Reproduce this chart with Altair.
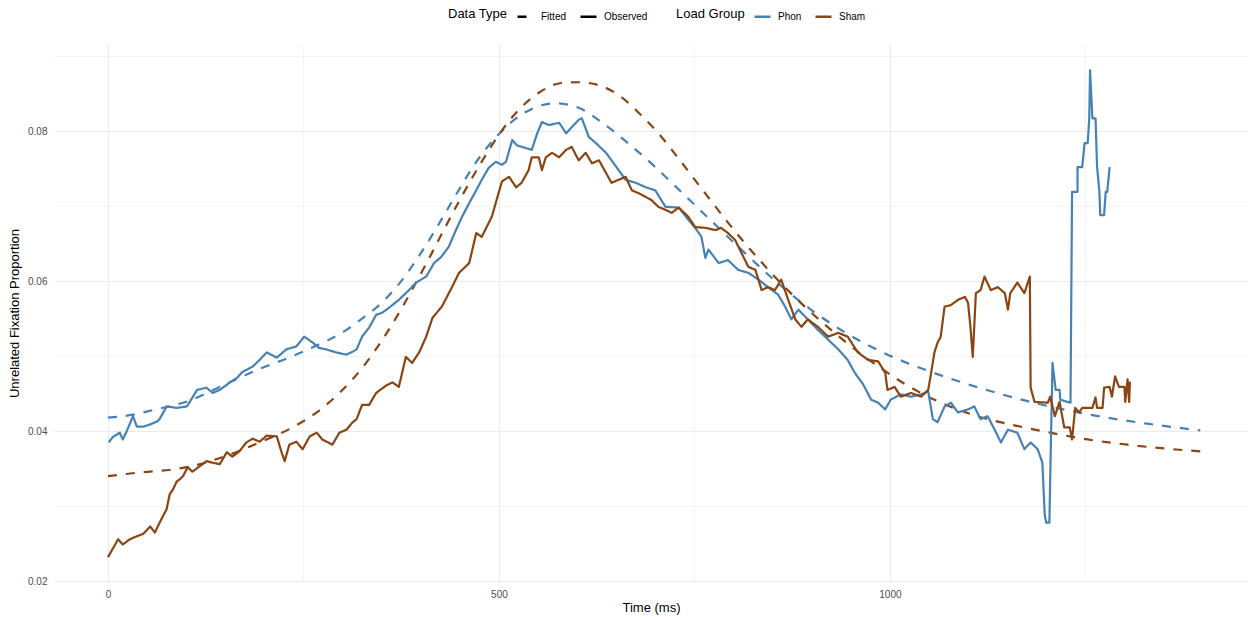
import altair as alt
import pandas as pd

# ---------------- data ----------------
phon_obs_t = [1, 6, 12, 15, 19, 24, 32, 37, 45, 54, 63, 66, 75, 88, 101, 114, 126, 134, 143, 156,
              165, 172, 185, 194, 203, 216, 228, 241, 251, 262, 270, 279, 292, 305, 313, 318, 325, 334, 343, 351,
              360, 372, 385, 394, 407, 417, 426, 436, 445, 453, 462, 471, 478, 487, 496, 504, 509, 517, 523, 529,
              542, 549, 555, 564, 577, 586, 593, 602, 606, 615, 624, 637, 644, 653, 662, 675, 688, 700, 713, 730,
              742, 751, 759, 764, 768, 781, 793, 806, 819, 832, 844, 857, 866, 874, 883, 895, 908, 921, 934, 946,
              955, 966, 976, 985, 994, 1001, 1014, 1027, 1040, 1049, 1055, 1061, 1070, 1078, 1087, 1100, 1108, 1116, 1125, 1134,
              1142, 1151, 1163, 1172, 1180, 1189, 1195, 1198, 1200, 1204, 1205, 1208, 1212, 1217, 1218, 1227, 1231, 1233, 1240, 1240,
              1246, 1249, 1253, 1255, 1256, 1259, 1263, 1265, 1268, 1269, 1274, 1276, 1278, 1281]
phon_obs_v = [0.0385, 0.0392, 0.0396, 0.0398, 0.0389, 0.0400, 0.0420, 0.0406, 0.0406, 0.0409, 0.0413, 0.0416, 0.0433, 0.0431, 0.0433, 0.0455, 0.0458, 0.0451, 0.0455, 0.0465,
              0.0471, 0.0479, 0.0486, 0.0495, 0.0505, 0.0498, 0.0509, 0.0513, 0.0526, 0.0518, 0.0511, 0.0509, 0.0505, 0.0502, 0.0506, 0.0509, 0.0526, 0.0538, 0.0555, 0.0558,
              0.0565, 0.0575, 0.0588, 0.0598, 0.0606, 0.0624, 0.0632, 0.0646, 0.0668, 0.0686, 0.0704, 0.0721, 0.0735, 0.0751, 0.0759, 0.0755, 0.0759, 0.0788, 0.0781, 0.0779,
              0.0775, 0.0797, 0.0812, 0.0808, 0.0811, 0.0797, 0.0805, 0.0815, 0.0817, 0.0792, 0.0784, 0.0771, 0.0761, 0.0748, 0.0735, 0.0731, 0.0725, 0.0721, 0.0699, 0.0698,
              0.0682, 0.0671, 0.0659, 0.0631, 0.0642, 0.0624, 0.0628, 0.0615, 0.0611, 0.0602, 0.0592, 0.0582, 0.0566, 0.0549, 0.0562, 0.0549, 0.0535, 0.0522, 0.0509, 0.0495,
              0.0478, 0.0462, 0.0442, 0.0438, 0.0429, 0.0442, 0.0449, 0.0446, 0.0449, 0.0453, 0.0416, 0.0412, 0.0433, 0.0438, 0.0425, 0.0429, 0.0433, 0.0416, 0.0420, 0.0402,
              0.0385, 0.0402, 0.0398, 0.0376, 0.0385, 0.0376, 0.0358, 0.0289, 0.0278, 0.0278, 0.0336, 0.0491, 0.0455, 0.0455, 0.0442, 0.0439, 0.0438, 0.0719, 0.0719, 0.0752,
              0.0752, 0.0784, 0.0784, 0.0817, 0.0881, 0.0817, 0.0817, 0.0752, 0.0719, 0.0688, 0.0688, 0.0719, 0.0719, 0.0752]

sham_obs_t = [0, 6, 13, 19, 28, 37, 45, 54, 60, 66, 75, 79, 83, 88, 92, 96, 102, 108, 117, 126,
              134, 143, 152, 159, 168, 177, 185, 194, 203, 216, 222, 226, 232, 241, 249, 258, 267, 274, 287, 296,
              305, 313, 318, 325, 334, 343, 356, 364, 372, 381, 389, 398, 407, 415, 427, 440, 449, 462, 471, 478,
              491, 500, 504, 513, 522, 529, 538, 542, 551, 555, 560, 568, 577, 586, 593, 602, 611, 619, 628, 637,
              644, 653, 662, 670, 679, 688, 695, 704, 713, 721, 730, 742, 751, 764, 777, 784, 793, 802, 810, 819,
              828, 836, 844, 853, 861, 870, 879, 887, 895, 908, 921, 934, 946, 959, 972, 985, 994, 997, 1006, 1014,
              1027, 1040, 1049, 1052, 1057, 1061, 1065, 1070, 1078, 1087, 1096, 1100, 1103, 1106, 1110, 1116, 1121, 1129, 1138, 1147,
              1151, 1154, 1163, 1172, 1179, 1180, 1185, 1202, 1205, 1211, 1217, 1223, 1230, 1233, 1237, 1242, 1246, 1259, 1263, 1265,
              1272, 1274, 1281, 1284, 1288, 1293, 1300, 1301, 1304, 1306, 1307]
sham_obs_v = [0.0232, 0.0243, 0.0256, 0.0249, 0.0256, 0.0260, 0.0263, 0.0273, 0.0265, 0.0278, 0.0296, 0.0316, 0.0322, 0.0333, 0.0336, 0.0340, 0.0352, 0.0346, 0.0353, 0.0360,
              0.0358, 0.0356, 0.0372, 0.0366, 0.0373, 0.0385, 0.0390, 0.0386, 0.0394, 0.0393, 0.0372, 0.0360, 0.0382, 0.0386, 0.0376, 0.0393, 0.0398, 0.0389, 0.0382, 0.0398,
              0.0402, 0.0412, 0.0416, 0.0435, 0.0435, 0.0451, 0.0461, 0.0465, 0.0459, 0.0499, 0.0491, 0.0505, 0.0526, 0.0551, 0.0566, 0.0592, 0.0611, 0.0624, 0.0664, 0.0659,
              0.0686, 0.0719, 0.0733, 0.0739, 0.0725, 0.0731, 0.0748, 0.0765, 0.0765, 0.0748, 0.0765, 0.0771, 0.0765, 0.0775, 0.0779, 0.0761, 0.0771, 0.0757, 0.0761, 0.0744,
              0.0731, 0.0735, 0.0739, 0.0721, 0.0717, 0.0712, 0.0708, 0.0699, 0.0695, 0.0691, 0.0698, 0.0686, 0.0672, 0.0671, 0.0668, 0.0671, 0.0664, 0.0655, 0.0638, 0.0619,
              0.0615, 0.0588, 0.0592, 0.0588, 0.0602, 0.0575, 0.0549, 0.0539, 0.0549, 0.0539, 0.0526, 0.0531, 0.0526, 0.0505, 0.0495, 0.0493, 0.0478, 0.0455, 0.0459, 0.0446,
              0.0451, 0.0446, 0.0455, 0.0473, 0.0505, 0.0518, 0.0526, 0.0566, 0.0568, 0.0575, 0.0579, 0.0571, 0.0539, 0.0499, 0.0584, 0.0588, 0.0606, 0.0588, 0.0592, 0.0584,
              0.0562, 0.0584, 0.0598, 0.0584, 0.0606, 0.0458, 0.0439, 0.0438, 0.0446, 0.0420, 0.0439, 0.0405, 0.0405, 0.0389, 0.0431, 0.0425, 0.0431, 0.0431, 0.0445, 0.0431,
              0.0431, 0.0458, 0.0459, 0.0446, 0.0473, 0.0459, 0.0459, 0.0439, 0.0469, 0.0439, 0.0466]

phon_fit_t = [0, 32, 57, 105, 149, 194, 236, 262, 283, 305, 325, 351, 372, 389, 411, 427, 449, 466, 484, 500,
              529, 572, 602, 636, 666, 700, 730, 772, 815, 857, 899, 942, 995, 1050, 1114, 1176, 1256, 1329, 1397]
phon_fit_v = [0.0418, 0.0422, 0.0428, 0.0441, 0.0462, 0.0483, 0.0500, 0.0512, 0.0522, 0.0535, 0.0550, 0.0572, 0.0596, 0.0620, 0.0655, 0.0683, 0.0722, 0.0751, 0.0777, 0.0796,
              0.0822, 0.0837, 0.0831, 0.0808, 0.0783, 0.0752, 0.0722, 0.0680, 0.0637, 0.0597, 0.0562, 0.0532, 0.0503, 0.0480, 0.0458, 0.0440, 0.0422, 0.0410, 0.0401]

sham_fit_t = [0, 41, 83, 105, 156, 194, 236, 267, 296, 325, 356, 394, 411, 432, 453, 475, 491, 504, 526, 551,
              580, 602, 628, 657, 682, 708, 730, 755, 772, 793, 815, 836, 857, 879, 908, 934, 959, 994, 1019, 1061,
              1112, 1154, 1205, 1253, 1304, 1397]
sham_fit_v = [0.0340, 0.0345, 0.0349, 0.0353, 0.0369, 0.0385, 0.0405, 0.0425, 0.0451, 0.0484, 0.0530, 0.0598, 0.0631, 0.0673, 0.0714, 0.0754, 0.0781, 0.0801, 0.0829, 0.0851,
              0.0864, 0.0865, 0.0861, 0.0845, 0.0821, 0.0792, 0.0763, 0.0729, 0.0706, 0.0678, 0.0650, 0.0625, 0.0601, 0.0578, 0.0550, 0.0527, 0.0506, 0.0480, 0.0463, 0.0440,
              0.0420, 0.0409, 0.0398, 0.0389, 0.0382, 0.0373]

groups = ["Phon", "Sham"]
group_colors = ["#4682B4", "#8B4513"]
types = ["Fitted", "Observed"]

rows = []
for ts, vs, typ, grp in [
    (phon_fit_t, phon_fit_v, "Fitted", "Phon"),
    (sham_fit_t, sham_fit_v, "Fitted", "Sham"),
    (phon_obs_t, phon_obs_v, "Observed", "Phon"),
    (sham_obs_t, sham_obs_v, "Observed", "Sham"),
]:
    for i, (t, v) in enumerate(zip(ts, vs)):
        rows.append({"time": t, "prop": v, "type": typ, "group": grp, "idx": i})
df = pd.DataFrame(rows)

FONT = "Liberation Sans"

x_axis = alt.Axis(
    title="Time (ms)", values=[0, 250, 500, 750, 1000, 1250],
    labelExpr="datum.value % 500 == 0 ? format(datum.value, 'd') : ''",
    grid=True, gridColor="#EBEBEB",
    gridWidth={"condition": {"test": "datum.value % 500 == 0", "value": 1.1}, "value": 0.55},
    ticks=False, domain=False, labelFontSize=10, labelColor="#4D4D4D", labelPadding=7,
    titleFontSize=13, titleFontWeight="normal", titleColor="#000000", titlePadding=2,
    labelFont=FONT, titleFont=FONT,
)
y_axis = alt.Axis(
    title="Unrelated Fixation Proportion",
    values=[0.02, 0.03, 0.04, 0.05, 0.06, 0.07, 0.08, 0.09],
    labelExpr="round(datum.value * 100) % 2 == 0 ? format(datum.value, '.2f') : ''",
    grid=True, gridColor="#EBEBEB",
    gridWidth={"condition": {"test": "round(datum.value * 100) % 2 == 0", "value": 1.1}, "value": 0.55},
    ticks=False, domain=False, labelFontSize=10, labelColor="#4D4D4D", labelPadding=7,
    titleFontSize=13, titleFontWeight="normal", titleColor="#000000", titlePadding=6,
    labelFont=FONT, titleFont=FONT,
)

legend_common = dict(
    orient="none", legendY=-37, direction="horizontal",
    titleOrient="left", titleAnchor="middle", titleBaseline="middle",
    symbolType="stroke", symbolStrokeWidth=2.5, symbolSize=256,
    titleFontSize=13, titleFontWeight="normal", labelFontSize=10,
    titleFont=FONT, labelFont=FONT, titlePadding=8, columnPadding=8, labelOffset=6,
    titleColor="#000000", labelColor="#000000",
)

color_enc = alt.Color(
    "group:N", title="Load Group",
    scale=alt.Scale(domain=groups, range=group_colors),
    legend=alt.Legend(legendX=622, **legend_common),
)
dash_enc = alt.StrokeDash(
    "type:N", title="Data Type",
    scale=alt.Scale(domain=types, range=[[9, 9], [1, 0]]),
    legend=alt.Legend(legendX=394, symbolStrokeColor="#000000", **legend_common),
)

base = alt.Chart(df).encode(
    x=alt.X("time:Q", scale=alt.Scale(domain=[-69, 1458], nice=False, zero=False), axis=x_axis),
    y=alt.Y("prop:Q", scale=alt.Scale(domain=[0.0199, 0.0916], nice=False, zero=False), axis=y_axis),
    color=color_enc,
    strokeDash=dash_enc,
    order=alt.Order("idx:Q"),
)

fitted = base.transform_filter(alt.datum.type == "Fitted").mark_line(
    strokeWidth=2.2, interpolate="monotone", strokeCap="butt")
observed = base.transform_filter(alt.datum.type == "Observed").mark_line(
    strokeWidth=2.2, strokeJoin="round")

chart = (fitted + observed).properties(
    width=1194, height=538,
    autosize=alt.AutoSizeParams(type="none"),
    padding={"left": 54, "top": 44, "right": 5, "bottom": 35},
    background="white",
).configure_view(stroke=None)

chart.save("out.html", embed_options={"renderer": "svg", "actions": False})
